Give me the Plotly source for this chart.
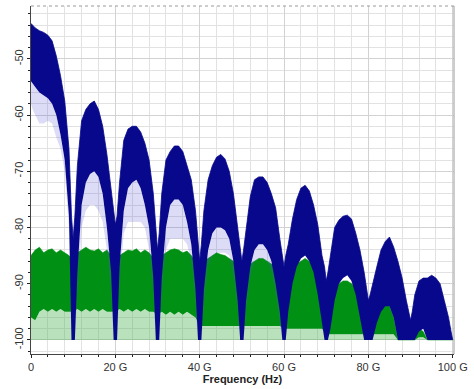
import plotly.graph_objects as go

# Spectrum envelopes (dBm) vs frequency (GHz)
freq = [
    0, 0.4, 1, 2, 3, 4, 5, 6, 7, 8, 9, 9.6,
    10, 10.4, 11, 12, 13, 14, 15, 16, 17, 18, 19, 19.6,
    20, 20.4, 21, 22, 23, 24, 25, 26, 27, 28, 29, 29.6,
    30, 30.4, 31, 32, 33, 34, 35, 36, 37, 38, 39, 39.6,
    40, 40.4, 41, 42, 43, 44, 45, 46, 47, 48, 49, 49.6,
    50, 50.4, 51, 52, 53, 54, 55, 56, 57, 58, 59, 59.6,
    60, 60.4, 61, 62, 63, 64, 65, 66, 67, 68, 69, 69.6,
    70, 70.4, 71, 72, 73, 74, 75, 76, 77, 78, 79, 79.6,
    80, 80.4, 81, 82, 83, 84, 85, 86, 87, 88, 89, 89.6,
    90, 90.4, 91, 92, 93, 94, 95, 96, 97, 98, 99, 99.6,
    100,
]

# upper edge of the modulated signal spectrum
blue_top = [
    -43.7, -44.0, -44.5, -45.0, -45.3, -45.8, -46.8, -49.5, -53.0, -57.5, -66.0, -78.0,
    -82, -78, -69, -61, -59, -58, -57.5, -59, -62, -67, -74, -77,
    -79.5, -78, -72, -64.5, -62.5, -62, -62, -63, -65, -68, -74, -80,
    -84, -81, -74, -68, -66.5, -65.5, -65.5, -66.5, -69, -71.5, -77, -82,
    -86, -83, -77, -71.5, -69, -67.5, -67, -67.8, -70, -74, -80, -83,
    -86, -84, -80, -74.5, -71.5, -71, -71, -72, -74, -76.5, -82, -85,
    -87, -85, -83, -78.5, -75, -73, -72.5, -73.5, -76, -79.5, -85, -87,
    -89.5, -88, -85, -80, -78.7, -78, -77.8, -78.5, -81, -84, -88, -91,
    -93, -92, -90, -87, -84, -82.5, -81.7, -83.5, -86, -89, -93, -95,
    -96.5, -95, -92, -89.5, -89, -89, -88.5, -89, -90, -93, -96, -98.5,
    -100,
]

# lower edge of the dense part of the signal trace
blue_bottom = [
    -54.0, -54.5, -55.0, -56.0, -56.5, -57.0, -58.0, -60.0, -63.5, -68.0, -78.0, -100,
    -100, -100, -88, -76, -72, -70.5, -70, -71, -74, -80, -88, -100,
    -100, -100, -87, -77, -73, -72, -71.5, -73, -76, -80, -89, -100,
    -100, -100, -89, -80, -76, -75, -75, -76, -79, -83, -91, -100,
    -100, -100, -91, -84, -81, -80, -80, -80.5, -82, -86, -93, -100,
    -100, -100, -93, -87, -84, -83, -83, -84, -86, -90, -95, -100,
    -100, -100, -95, -90, -87, -85.5, -85, -86, -88, -92, -97, -100,
    -100, -100, -98, -93, -90, -89, -88.5, -89.5, -92, -96, -100, -100,
    -100, -100, -100, -97, -95, -94, -94, -96, -100, -100, -100, -100,
    -100, -100, -100, -98.5, -98, -100, -100, -100, -100, -100, -100, -100,
    -100,
]

# lowest sparse excursions of the signal trace
blue_floor = [
    -58, -59, -60, -61.5, -61.5, -61, -61.5, -64, -66, -70, -80, -100,
    -100, -100, -92, -80, -77, -76, -76, -77, -79, -84, -92, -100,
    -100, -100, -90, -81, -79, -79, -79, -79, -80, -84, -92, -100,
    -100, -100, -92, -84, -82, -82, -82, -82, -83, -86, -94, -100,
    -100, -100, -94, -87, -85, -84.5, -84.5, -84.5, -85, -89, -95, -100,
    -100, -100, -95, -89, -86, -85.5, -85.5, -86, -88, -92, -97, -100,
    -100, -100, -95, -90, -87, -85.5, -85, -86, -88, -92, -97, -100,
    -100, -100, -98, -93, -90, -89, -88.5, -89.5, -92, -96, -100, -100,
    -100, -100, -100, -97, -95, -94, -94, -96, -100, -100, -100, -100,
    -100, -100, -100, -98.5, -98, -100, -100, -100, -100, -100, -100, -100,
    -100,
]

# noise floor trace
green_freq = list(range(0, 101))
green_top = [
    -85, -84, -83.5, -84.5, -84, -83.8, -84.5, -84, -84.5, -85,
    -86, -84.5, -84, -83.5, -84, -84.2, -83.8, -84.5, -84, -85,
    -86, -85, -84.5, -84, -84.2, -83.8, -84.5, -84, -84.5, -85.5,
    -86, -85, -84.5, -84, -83.8, -84, -84.5, -84.2, -85, -86,
    -87, -86, -85.5, -85, -84.5, -84.8, -85, -85.5, -86, -87,
    -88, -87, -86.5, -86, -85.5, -85.5, -86, -86.5, -87, -88,
    -89, -88, -87, -86.5, -86, -85.5, -86, -86.5, -87.5, -89,
    -92, -91, -90.5, -90, -89.5, -89.5, -90, -90.5, -91.5, -93,
    -96, -95, -94, -93.5, -93.5, -94, -96, -100, -100, -100,
    -100, -100, -98, -98.5, -100, -100, -100, -100, -100, -100,
    -100,
]
green_bottom = [
    -96, -96.5, -95, -94.5, -95, -94.5, -95, -94.5, -95, -95,
    -95, -94.5, -95, -94.5, -95, -94.5, -95, -94.5, -95, -95,
    -95, -94.5, -95, -94.5, -95, -94.5, -95, -94.5, -95, -95,
    -95.5, -95, -95.5, -95, -95.5, -95, -95.5, -95, -95.5, -96,
    -97.5, -97.5, -97.5, -97.5, -97.5, -97.5, -97.5, -97.5, -97.5, -97.5,
    -97.5, -97.5, -97.5, -97.5, -97.5, -97.5, -97.5, -97.5, -97.5, -97.5,
    -98, -98, -98, -98, -98, -98, -98, -98, -98, -98,
    -99, -99, -99, -99, -99, -99, -99, -99, -99, -99,
    -99, -99, -99, -99, -99, -99, -99, -100, -100, -100,
    -100, -100, -99.5, -99.5, -100, -100, -100, -100, -100, -100,
    -100,
]
green_base = [-100] * len(green_freq)

# residual reference trace visible at the spectral nulls
red_freq = [10, 20, 30, 40, 50, 60, 70]
red_level = [-97, -96, -96, -96.5, -97, -97.5, -98]

x_ticks = [0, 20, 40, 60, 80, 100]
x_labels = ["0", "20 G", "40 G", "60 G", "80 G", "100 G"]
y_ticks = [-100, -90, -80, -70, -60, -50]
y_labels = ["-100", "-90", "-80", "-70", "-60", "-50"]

NAVY = "rgb(8,8,140)"
NAVY_LIGHT = "rgba(80,80,210,0.2)"
GREEN = "rgb(0,145,20)"
GREEN_LIGHT = "rgba(70,175,80,0.38)"
RED = "rgb(150,10,10)"


def band(x, lower, upper, color, name, width=0.6):
    return [
        go.Scatter(x=x, y=lower, mode="lines", line=dict(width=0, color=color),
                   hoverinfo="skip", showlegend=False, name=name + " lo"),
        go.Scatter(x=x, y=upper, mode="lines", line=dict(width=width, color=color),
                   fill="tonexty", fillcolor=color, hoverinfo="skip",
                   showlegend=False, name=name),
    ]


fig = go.Figure()
# noise floor: sparse part then dense part
for tr in band(green_freq, green_base, green_bottom, GREEN_LIGHT, "noise sparse", 0):
    fig.add_trace(tr)
fig.add_trace(go.Scatter(x=green_freq, y=green_top, mode="lines",
                         line=dict(width=0.6, color=GREEN), fill="tonexty",
                         fillcolor=GREEN, hoverinfo="skip", showlegend=False))
# signal spectrum: sparse excursions then dense trace
for tr in band(freq, blue_floor, blue_bottom, NAVY_LIGHT, "signal sparse", 0):
    fig.add_trace(tr)
fig.add_trace(go.Scatter(x=freq, y=blue_top, mode="lines",
                         line=dict(width=0.8, color=NAVY), fill="tonexty",
                         fillcolor=NAVY, hoverinfo="skip", showlegend=False))
# reference trace at the nulls
fig.add_trace(go.Bar(x=red_freq, y=[v + 100 for v in red_level], base=-100,
                     width=0.45, marker=dict(color=RED, line=dict(width=0)),
                     hoverinfo="skip", showlegend=False))

font = dict(family="Liberation Sans, Arial, sans-serif", size=11, color="#333333")

fig.update_layout(
    width=474, height=389,
    margin=dict(l=31, r=18, t=6, b=35),
    paper_bgcolor="white", plot_bgcolor="white",
    font=font, showlegend=False, bargap=0,
    xaxis=dict(
        range=[0, 100.3], tickvals=x_ticks, ticktext=x_labels,
        showgrid=True, gridcolor="#d2d2d2", gridwidth=1,
        minor=dict(dtick=4, tick0=0, showgrid=True, gridcolor="#e2e2e2",
                   ticks="outside", ticklen=2, tickcolor="#222"),
        ticks="outside", ticklen=3, tickcolor="#222",
        showline=True, linecolor="#444", linewidth=1,
        zeroline=False, tickfont=font,
        title=dict(text="<b>Frequency (Hz)</b>", standoff=2,
                   font=dict(family="Liberation Sans, Arial, sans-serif", size=11, color="#222")),
    ),
    yaxis=dict(
        range=[-102.5, -40.6], tickvals=y_ticks, ticktext=y_labels,
        tickangle=-90,
        showgrid=True, gridcolor="#d2d2d2", gridwidth=1,
        minor=dict(dtick=2, tick0=-100, showgrid=True, gridcolor="#e2e2e2",
                   ticks="outside", ticklen=2, tickcolor="#222"),
        ticks="outside", ticklen=3, tickcolor="#222",
        showline=True, linecolor="#444", linewidth=1,
        zeroline=False, tickfont=font,
    ),
    shapes=[
        dict(type="line", xref="paper", yref="paper", x0=1, x1=1, y0=0, y1=1,
             line=dict(color="#9a9a9a", width=1)),
        dict(type="line", xref="paper", yref="paper", x0=0, x1=1, y0=1, y1=1,
             line=dict(color="#9a9a9a", width=1, dash="dot")),
    ],
)

fig.write_html("out.html")
